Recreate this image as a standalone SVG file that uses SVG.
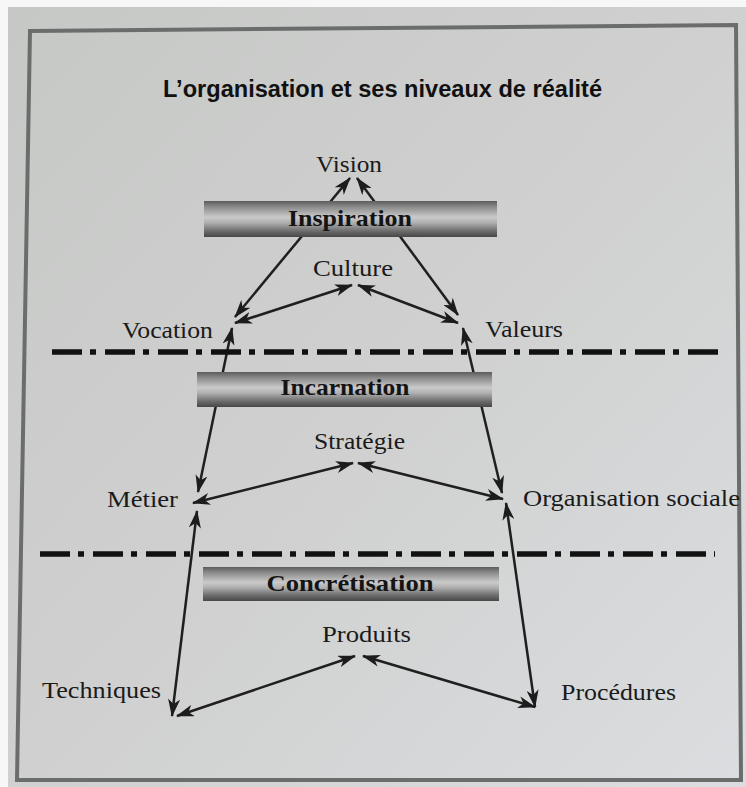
<svg xmlns="http://www.w3.org/2000/svg" width="746" height="787" viewBox="0 0 746 787">
  <defs>
    <linearGradient id="paper" x1="0" y1="0" x2="1" y2="1">
      <stop offset="0" stop-color="#c6c8c6"/>
      <stop offset="0.5" stop-color="#cfd0cf"/>
      <stop offset="1" stop-color="#dcdde0"/>
    </linearGradient>
    <linearGradient id="bar" x1="0" y1="0" x2="0" y2="1">
      <stop offset="0" stop-color="#5c5c5c"/>
      <stop offset="0.15" stop-color="#878787"/>
      <stop offset="0.45" stop-color="#cacaca"/>
      <stop offset="0.6" stop-color="#b0b0b0"/>
      <stop offset="0.85" stop-color="#686868"/>
      <stop offset="1" stop-color="#474747"/>
    </linearGradient>
    <marker id="ah" viewBox="0 0 18 12" refX="17" refY="6" markerWidth="18" markerHeight="12" markerUnits="userSpaceOnUse" orient="auto-start-reverse">
      <path d="M0,0 L18,6 L0,12 L5,6 Z" fill="#1c1c1c"/>
    </marker>
  </defs>
  <style>
    .lbl { font-family: "Liberation Serif", "DejaVu Serif", serif; font-size: 24px; fill: #1a1a1a; }
    .bartxt { font-family: "Liberation Serif", "DejaVu Serif", serif; font-size: 24px; font-weight: bold; fill: #141414; text-anchor: middle; }
    .title { font-family: "Liberation Sans", "DejaVu Sans", sans-serif; font-size: 23px; font-weight: bold; fill: #111; }
    .conn { stroke: #1f1f1f; stroke-width: 2.5; fill: none; marker-start: url(#ah); marker-end: url(#ah); }
    .dd { stroke: #111; stroke-width: 5.5; stroke-dasharray: 30 8 6 9; fill: none; }
    .barrect { fill: url(#bar); }
  </style>

  <!-- page background -->
  <rect x="0" y="0" width="746" height="787" fill="#f7f7f7"/>
  <rect x="8" y="7" width="738" height="780" fill="url(#paper)"/>
  <!-- frame -->
  <polygon points="30,31 736,25 741,780 17,780" fill="none" stroke="#6b6d6c" stroke-width="4"/>

  <text class="title" x="163" y="97" textLength="439" lengthAdjust="spacingAndGlyphs">L’organisation et ses niveaux de réalité</text>

  <!-- connectors -->
  <g id="connectors">
    <line class="conn" x1="235" y1="317" x2="350" y2="178"/>
    <line class="conn" x1="458" y1="315" x2="357" y2="178"/>
    <line class="conn" x1="235" y1="323" x2="352" y2="285"/>
    <line class="conn" x1="458" y1="323" x2="358" y2="285"/>
    <line class="conn" x1="232" y1="328" x2="198" y2="492"/>
    <line class="conn" x1="463" y1="328" x2="502" y2="493"/>
    <line class="conn" x1="193" y1="503" x2="353" y2="463"/>
    <line class="conn" x1="503" y1="499" x2="358" y2="463"/>
    <line class="conn" x1="197" y1="511" x2="172" y2="716"/>
    <line class="conn" x1="506" y1="503" x2="535" y2="707"/>
    <line class="conn" x1="177" y1="716" x2="355" y2="656"/>
    <line class="conn" x1="535" y1="707" x2="363" y2="656"/>
  </g>

  <!-- level separators -->
  <g id="separators">
    <line class="dd" x1="52" y1="352" x2="718" y2="352"/>
    <line class="dd" x1="40" y1="554" x2="715" y2="554"/>
  </g>

  <!-- level bars -->
  <g id="bar-inspiration">
    <rect class="barrect" x="204" y="201" width="293" height="36"/>
    <text class="bartxt" x="350" y="226" textLength="124" lengthAdjust="spacingAndGlyphs">Inspiration</text>
  </g>
  <g id="bar-incarnation">
    <rect class="barrect" x="197" y="372" width="295" height="35"/>
    <text class="bartxt" x="345" y="395" textLength="129" lengthAdjust="spacingAndGlyphs">Incarnation</text>
  </g>
  <g id="bar-concretisation">
    <rect class="barrect" x="203" y="567" width="296" height="34"/>
    <text class="bartxt" x="350" y="591" textLength="167" lengthAdjust="spacingAndGlyphs">Concrétisation</text>
  </g>

  <!-- nodes -->
  <g id="node-vision"><text class="lbl" x="316" y="172" textLength="66" lengthAdjust="spacingAndGlyphs">Vision</text></g>
  <g id="node-culture"><text class="lbl" x="313" y="276" textLength="80" lengthAdjust="spacingAndGlyphs">Culture</text></g>
  <g id="node-vocation"><text class="lbl" x="122" y="338" textLength="91" lengthAdjust="spacingAndGlyphs">Vocation</text></g>
  <g id="node-valeurs"><text class="lbl" x="485" y="337" textLength="78" lengthAdjust="spacingAndGlyphs">Valeurs</text></g>
  <g id="node-strategie"><text class="lbl" x="314" y="449" textLength="91" lengthAdjust="spacingAndGlyphs">Stratégie</text></g>
  <g id="node-metier"><text class="lbl" x="107" y="507" textLength="71" lengthAdjust="spacingAndGlyphs">Métier</text></g>
  <g id="node-organisation-sociale"><text class="lbl" x="523" y="506" textLength="217" lengthAdjust="spacingAndGlyphs">Organisation sociale</text></g>
  <g id="node-produits"><text class="lbl" x="322" y="642" textLength="89" lengthAdjust="spacingAndGlyphs">Produits</text></g>
  <g id="node-techniques"><text class="lbl" x="42" y="698" textLength="119" lengthAdjust="spacingAndGlyphs">Techniques</text></g>
  <g id="node-procedures"><text class="lbl" x="561" y="700" textLength="115" lengthAdjust="spacingAndGlyphs">Procédures</text></g>
</svg>
